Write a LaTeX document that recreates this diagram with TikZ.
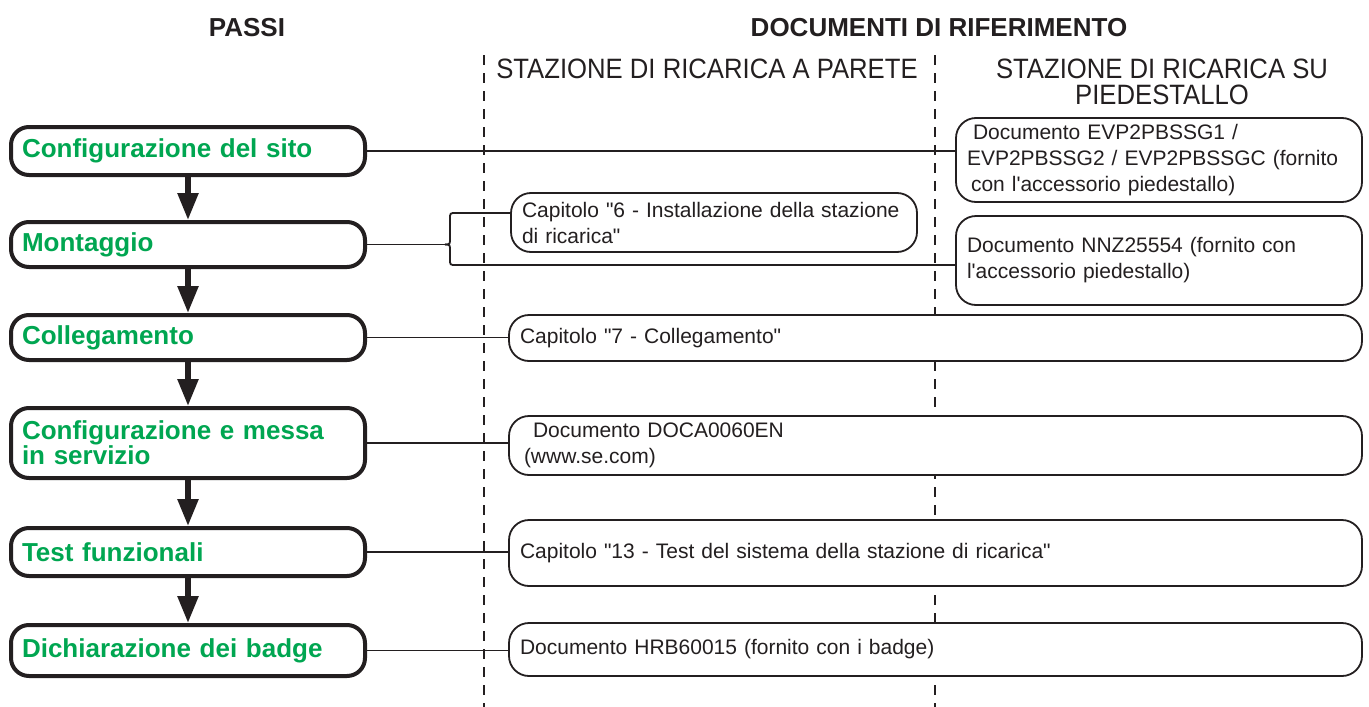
\documentclass[tikz,border=0pt]{standalone}
\usepackage{fontspec}
\setmainfont{Liberation Sans}
\usetikzlibrary{arrows.meta}
\definecolor{stepgreen}{RGB}{0,166,81}
\definecolor{ink}{RGB}{35,31,32}
\newcommand{\narrowcaps}[1]{\scalebox{0.917}[1]{#1}}
\begin{document}
\begin{tikzpicture}[x=1pt,y=-1pt,
  stepbox/.style={draw=ink, line width=4pt, rounded corners=18pt, fill=white,
    text width=332pt, inner xsep=11pt, inner ysep=0pt, align=left,
    font=\bfseries\fontsize{26}{24}\selectfont, text=stepgreen},
  docbox/.style={draw=ink, line width=1.8pt, rounded corners=20pt, fill=white,
    inner xsep=11pt, inner ysep=0pt, align=left,
    font=\fontsize{21}{26}\selectfont, text=ink},
  link/.style={draw=ink, line width=1.8pt},
  flow/.style={draw=ink, line width=5.5pt, -{Triangle[width=20pt,length=27pt]}},
  divider/.style={draw=ink, line width=1.8pt, dash pattern=on 10pt off 8pt},
  head/.style={anchor=base, text=ink, font=\bfseries\fontsize{26}{30}\selectfont},
  colhead/.style={anchor=base, text=ink, align=center, inner sep=0pt, font=\fontsize{28}{24}\selectfont},
]
\useasboundingbox (0,0) rectangle (1369,707);

% headings
\node[head] (hpassi) at (247,36) {PASSI};
\node[head] (hdoc) at (939,36) {DOCUMENTI DI RIFERIMENTO};
\node[colhead] (hwall) at (707,78) {\narrowcaps{STAZIONE DI RICARICA A PARETE}};
\node[colhead] (hped) at (1162,78) {\narrowcaps{STAZIONE DI RICARICA SU}};
\node[colhead] (hped2) at (1162,104) {\narrowcaps{PIEDESTALLO}};

% column dividers
\draw[divider] (484,55) -- (484,707);
\draw[divider] (935,55) -- (935,707);

% steps
\node[stepbox, minimum height=48pt] (s1) at (188,151) {Configurazione del sito};
\node[stepbox, minimum height=45pt] (s2) at (188,244.5) {Montaggio};
\node[stepbox, minimum height=45pt] (s3) at (188,337.5) {Collegamento};
\node[stepbox, minimum height=70pt] (s4) at (188,443) {Configurazione e messa\\in servizio};
\node[stepbox, minimum height=48pt] (s5) at (188,552) {Test funzionali};
\node[stepbox, minimum height=51pt] (s6) at (188,650.5) {Dichiarazione dei badge};

% reference documents
\node[docbox, text width=384pt, minimum height=84pt] (dA) at (1159,160)
  {\hspace*{6pt}Documento EVP2PBSSG1 /\\EVP2PBSSG2 / EVP2PBSSGC (fornito\\\hspace*{4pt}con l\textquotesingle accessorio piedestallo)};
\node[docbox, text width=384pt, minimum height=89pt] (dB) at (1159,260.5)
  {Documento NNZ25554 (fornito con\\l\textquotesingle accessorio piedestallo)};
\node[docbox, text width=384pt, minimum height=59pt] (dC) at (714,222.5)
  {Capitolo \textquotedbl 6 - Installazione della stazione\\di ricarica\textquotedbl};
\node[docbox, text width=831pt, minimum height=46pt] (dD) at (935.5,338)
  {Capitolo \textquotedbl 7 - Collegamento\textquotedbl};
\node[docbox, text width=831pt, minimum height=59pt] (dE) at (935.5,445.5)
  {\hspace*{13pt}Documento DOCA0060EN\\\hspace*{4pt}(www.se.com)};
\node[docbox, text width=831pt, minimum height=66pt] (dF) at (935.5,553)
  {Capitolo \textquotedbl 13 - Test del sistema della stazione di ricarica\textquotedbl};
\node[docbox, text width=831pt, minimum height=53pt] (dG) at (935.5,649.5)
  {Documento HRB60015 (fornito con i badge)};

% flow arrows
\draw[flow] (s1.south) -- (s2.north);
\draw[flow] (s2.south) -- (s3.north);
\draw[flow] (s3.south) -- (s4.north);
\draw[flow] (s4.south) -- (s5.north);
\draw[flow] (s5.south) -- (s6.north);

% connectors
\draw[link] (s1.east) -- (s1.east -| dA.west);
\draw[link] (s3.east) -- (s3.east -| dD.west);
\draw[link] (s4.east) -- (s4.east -| dE.west);
\draw[link] (s5.east) -- (s5.east -| dF.west);
\draw[link] (s6.east) -- (s6.east -| dG.west);

% brace for Montaggio
\coordinate (bt) at (445,244.5);
\coordinate (cin) at ([yshift=9.5pt]dC.west);
\coordinate (bin) at ([yshift=-4.5pt]dB.west);
\draw[link] (s2.east) -- (bt);
\draw[link] (cin) -- (456,213) .. controls (450,213) .. (450,219) -- (450,238)
  .. controls (450,244.5) .. (bt);
\draw[link] (bt) .. controls (450,244.5) .. (450,251) -- (450,259)
  .. controls (450,265) .. (456,265) -- (bin);
\end{tikzpicture}
\end{document}
